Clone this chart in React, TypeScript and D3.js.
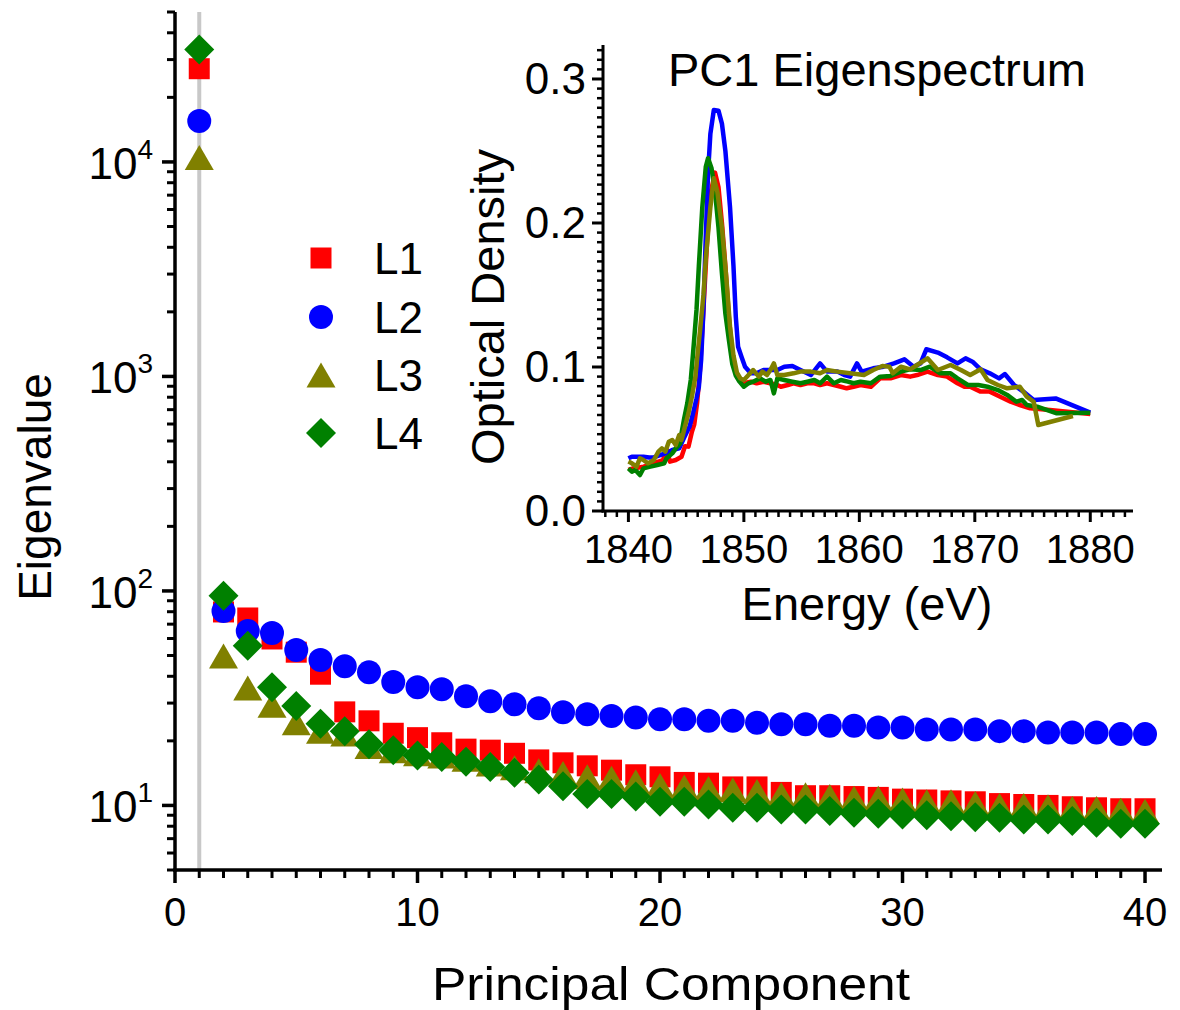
import React from 'react';
import * as d3 from 'd3';

// ---------- Main plot data (eigenvalues per principal component) ----------
const pcs = d3.range(1, 41);
const eigL1 = [27200, 79.8, 74.8, 59.7, 51.8, 40.9, 27.3, 24.8, 21.7, 20.7, 19.6, 18.3, 18.1, 17.5, 16.3, 15.8, 15.3, 14.6, 13.9, 13.6, 12.8, 12.7, 12.2, 12.2, 11.5, 11.1, 11.1, 11.0, 10.9, 10.7, 10.6, 10.5, 10.4, 10.2, 10.1, 10.0, 9.86, 9.75, 9.65, 9.65];
const eigL2 = [15500, 80.7, 65, 63.6, 53, 47.6, 44.6, 41.8, 37.6, 35.6, 34.8, 32.3, 30.6, 29.6, 28.4, 27.2, 26.6, 26.1, 25.7, 25.2, 25.2, 24.8, 24.8, 24.3, 23.9, 23.9, 23.5, 23.5, 23.1, 23.1, 22.6, 22.6, 22.6, 22.2, 22.2, 21.9, 21.9, 21.9, 21.5, 21.5];
const eigL3 = [10500, 49.7, 35.3, 29.3, 24.3, 22.2, 21.5, 18.8, 18.0, 17.4, 17.0, 16.4, 15.6, 15.0, 14.5, 14.1, 13.6, 13.4, 12.9, 12.4, 12.2, 12.0, 11.8, 11.6, 11.2, 11.2, 11.0, 10.8, 10.8, 10.6, 10.4, 10.4, 10.2, 10.0, 10.0, 9.86, 9.68, 9.68, 9.5, 9.4];
const eigL4 = [33400, 95, 55.5, 35.6, 29.1, 24.0, 22.2, 19.3, 18.1, 17.1, 16.8, 16.0, 15.1, 14.2, 13.2, 12.3, 11.3, 11.3, 11.0, 10.4, 10.4, 10.1, 9.75, 9.75, 9.58, 9.58, 9.41, 9.24, 9.15, 9.08, 9.01, 8.9, 8.82, 8.76, 8.6, 8.6, 8.45, 8.3, 8.22, 8.22];

const seriesNames = ['L1', 'L2', 'L3', 'L4'];
const seriesColors = ['#ff0000', '#0000ff', '#808000', '#008000'];
const seriesShapes = ['square', 'circle', 'triangle', 'diamond'];

const mainXTicks = [0, 10, 20, 30, 40];
const mainYExponents = [1, 2, 3, 4];

// ---------- Inset data (PC1 eigenspectrum) ----------
const l1Energy = [1840, 1840.4, 1840.8, 1841.3, 1841.8, 1842.2, 1842.6, 1843.0, 1843.3, 1843.6, 1844.1, 1844.6, 1844.9, 1845.2, 1845.5, 1845.7, 1845.95, 1846.2, 1846.5, 1846.8, 1847.1, 1847.5, 1847.8, 1848.1, 1848.4, 1848.7, 1849.0, 1849.3, 1849.7, 1850.0, 1850.6, 1851.1, 1851.7, 1852.3, 1852.9, 1853.2, 1853.8, 1854.3, 1854.9, 1855.5, 1856.1, 1856.6, 1857.2, 1857.8, 1858.4, 1858.9, 1859.5, 1860.1, 1861.0, 1861.8, 1862.7, 1863.6, 1864.4, 1865.0, 1865.9, 1866.8, 1867.6, 1868.5, 1869.1, 1869.6, 1870.5, 1871.3, 1872.2, 1873.1, 1873.9, 1874.8, 1876.5, 1880.0];
const l1OD = [0.0285, 0.0296, 0.030, 0.0308, 0.0319, 0.0331, 0.0343, 0.0354, 0.043, 0.0343, 0.0354, 0.0377, 0.045, 0.0447, 0.055, 0.060, 0.075, 0.098, 0.14, 0.185, 0.22, 0.235, 0.225, 0.20, 0.17, 0.135, 0.11, 0.097, 0.09, 0.0887, 0.0898, 0.0887, 0.0898, 0.0887, 0.0875, 0.0863, 0.0875, 0.0887, 0.0875, 0.0887, 0.0887, 0.0875, 0.0887, 0.0875, 0.0863, 0.0852, 0.0863, 0.0875, 0.0863, 0.0921, 0.0921, 0.0944, 0.0933, 0.0944, 0.0968, 0.0944, 0.0933, 0.0887, 0.0863, 0.0863, 0.0829, 0.0829, 0.0794, 0.0759, 0.0736, 0.0713, 0.0701, 0.0674];

const l2Energy = [1840, 1840.3, 1840.8, 1841.3, 1841.8, 1842.2, 1842.8, 1843.2, 1843.8, 1844.4, 1844.8, 1845.3, 1845.6, 1845.9, 1846.1, 1846.3, 1846.5, 1846.7, 1846.9, 1847.1, 1847.4, 1847.8, 1848.1, 1848.4, 1848.8, 1849.1, 1849.3, 1849.5, 1849.8, 1850.1, 1850.6, 1851.1, 1851.7, 1852.3, 1852.9, 1853.5, 1854.2, 1854.9, 1855.8, 1856.6, 1857.2, 1858.1, 1858.7, 1859.2, 1859.8, 1860.2, 1861.2, 1862.1, 1863.0, 1863.9, 1864.7, 1865.3, 1865.8, 1866.8, 1867.6, 1868.5, 1869.2, 1869.8, 1870.5, 1871.3, 1872.1, 1872.6, 1873.4, 1874.2, 1875.1, 1877.0, 1880.0];
const l2OD = [0.0366, 0.0377, 0.0377, 0.0377, 0.0372, 0.0372, 0.0389, 0.040, 0.0424, 0.0435, 0.0505, 0.0586, 0.0678, 0.0782, 0.086, 0.105, 0.14, 0.19, 0.235, 0.262, 0.2785, 0.278, 0.269, 0.25, 0.211, 0.17, 0.135, 0.114, 0.107, 0.1002, 0.0956, 0.0956, 0.0979, 0.0979, 0.0979, 0.1002, 0.1007, 0.0979, 0.0944, 0.1025, 0.0968, 0.0968, 0.0944, 0.0933, 0.1025, 0.0968, 0.0991, 0.1002, 0.1025, 0.1053, 0.1002, 0.1025, 0.1123, 0.110, 0.1067, 0.1025, 0.106, 0.1037, 0.0984, 0.0956, 0.0921, 0.0951, 0.0875, 0.0829, 0.0771, 0.0782, 0.0683];

const l3Energy = [1840, 1840.3, 1840.7, 1841.0, 1841.3, 1841.7, 1842.2, 1842.6, 1842.9, 1843.2, 1843.5, 1843.8, 1844.1, 1844.4, 1844.6, 1844.9, 1845.2, 1845.5, 1845.8, 1846.0, 1846.2, 1846.5, 1846.7, 1847.1, 1847.4, 1847.7, 1848.1, 1848.5, 1848.8, 1849.1, 1849.4, 1849.7, 1850.0, 1850.4, 1850.8, 1851.3, 1851.6, 1852.0, 1852.3, 1852.6, 1852.9, 1853.5, 1854.3, 1854.9, 1855.8, 1856.6, 1857.2, 1858.1, 1859.2, 1860.4, 1861.2, 1862.0, 1862.6, 1862.9, 1863.6, 1864.4, 1865.0, 1865.9, 1866.8, 1867.9, 1868.8, 1869.6, 1870.5, 1871.1, 1872.0, 1872.8, 1873.9, 1874.5, 1875.1, 1875.5, 1878.5];
const l3OD = [0.0343, 0.0331, 0.0308, 0.0366, 0.0354, 0.0331, 0.0354, 0.0412, 0.0435, 0.0412, 0.0481, 0.0493, 0.0458, 0.0528, 0.0493, 0.0586, 0.0678, 0.0794, 0.0933, 0.1095, 0.125, 0.15, 0.175, 0.211, 0.231, 0.222, 0.197, 0.16, 0.128, 0.108, 0.096, 0.092, 0.091, 0.0944, 0.0979, 0.0933, 0.0968, 0.0944, 0.0979, 0.1025, 0.0944, 0.0944, 0.0956, 0.0968, 0.0968, 0.0956, 0.0979, 0.0968, 0.0956, 0.0944, 0.0979, 0.1007, 0.1002, 0.0956, 0.1002, 0.0984, 0.1014, 0.106, 0.0979, 0.1014, 0.0979, 0.0944, 0.0984, 0.091, 0.0875, 0.0852, 0.0863, 0.0794, 0.0759, 0.0597, 0.066];

const l4Energy = [1840, 1840.3, 1840.6, 1841.0, 1841.3, 1841.9, 1842.5, 1843.1, 1843.3, 1843.8, 1844.1, 1844.5, 1844.6, 1844.8, 1845.1, 1845.4, 1845.6, 1845.9, 1846.1, 1846.4, 1846.7, 1846.9, 1847.2, 1847.5, 1847.8, 1848.1, 1848.4, 1848.7, 1849.0, 1849.3, 1849.6, 1850.0, 1850.4, 1850.8, 1851.4, 1851.9, 1852.3, 1852.6, 1852.9, 1853.5, 1854.2, 1854.9, 1855.5, 1856.1, 1856.6, 1857.2, 1857.8, 1858.4, 1859.0, 1859.5, 1860.1, 1861.0, 1861.8, 1862.7, 1863.6, 1864.4, 1865.3, 1866.1, 1867.0, 1867.9, 1868.5, 1869.4, 1870.3, 1871.1, 1872.0, 1872.8, 1873.6, 1874.1, 1874.5, 1875.4, 1877.1, 1880.0];
const l4OD = [0.0296, 0.0273, 0.0285, 0.025, 0.0296, 0.0308, 0.0319, 0.0331, 0.0366, 0.040, 0.0435, 0.047, 0.054, 0.063, 0.0748, 0.091, 0.1095, 0.14, 0.17, 0.211, 0.239, 0.245, 0.238, 0.222, 0.197, 0.165, 0.137, 0.119, 0.102, 0.094, 0.09, 0.0863, 0.0887, 0.0898, 0.0921, 0.0898, 0.091, 0.0817, 0.0921, 0.091, 0.0898, 0.0887, 0.0898, 0.091, 0.0887, 0.0933, 0.0887, 0.091, 0.0898, 0.0887, 0.0898, 0.0887, 0.0933, 0.0938, 0.0968, 0.0984, 0.0979, 0.1002, 0.0956, 0.0956, 0.0921, 0.0875, 0.0875, 0.0863, 0.084, 0.0806, 0.0759, 0.0771, 0.0736, 0.0724, 0.0678, 0.0683];

const insetXTicks = [1840, 1850, 1860, 1870, 1880];
const insetYTicks = [0, 0.1, 0.2, 0.3];

const FONT = '"Liberation Sans", Arial, Helvetica, sans-serif';

function symbolPath(shape: string, cx: number, cy: number): string {
  if (shape === 'square') {
    const h = 10.5;
    return `M${cx - h},${cy - h}H${cx + h}V${cy + h}H${cx - h}Z`;
  }
  if (shape === 'circle') {
    const r = 12;
    return `M${cx - r},${cy}A${r},${r} 0 1,0 ${cx + r},${cy}A${r},${r} 0 1,0 ${cx - r},${cy}Z`;
  }
  if (shape === 'triangle') {
    const w = 14.5, h = 12.5;
    return `M${cx - w},${cy + h}L${cx + w},${cy + h}L${cx},${cy - h}Z`;
  }
  const d = 15;
  return `M${cx},${cy - d}L${cx + d},${cy}L${cx},${cy + d}L${cx - d},${cy}Z`;
}

export default function App() {
  const W = 1180, H = 1010;
  // main scales
  const x = d3.scaleLinear().domain([0, 40.7]).range([175, 1162]);
  const y = d3.scaleLog().domain([5, 50000]).range([870, 12]);
  const eigSeries = [eigL1, eigL2, eigL3, eigL4];

  const xMinor = d3.range(0, 41).filter((v) => v % 10 !== 0);
  const yMinor: number[] = [];
  for (let e = 0; e <= 4; e++) {
    for (let m = 2; m <= 9; m++) {
      const v = m * Math.pow(10, e);
      if (v >= 5 && v <= 50000) yMinor.push(v);
    }
  }

  // inset scales
  const ix = d3.scaleLinear().domain([1837.8, 1883.7]).range([603, 1133]);
  const iy = d3.scaleLinear().domain([0, 0.3236]).range([511, 45]);
  const ixMinor = d3.range(1838, 1884).filter((v) => v % 10 !== 0);
  const iyMinor: number[] = [];
  for (let k = 1; k * (0.1 / 15) <= 0.3236; k++) {
    if (k % 15 !== 0) iyMinor.push(k * (0.1 / 15));
  }
  const spectra = [
    { e: l1Energy, od: l1OD, color: seriesColors[0] },
    { e: l2Energy, od: l2OD, color: seriesColors[1] },
    { e: l4Energy, od: l4OD, color: seriesColors[3] },
    { e: l3Energy, od: l3OD, color: seriesColors[2] },
  ];
  const line = d3
    .line<[number, number]>()
    .x((d) => ix(d[0]))
    .y((d) => iy(d[1]));

  const axisW = 3.5;
  const legendRows = [258, 317, 375, 433];

  return (
    <div style={{ position: 'absolute', left: 0, top: 0 }}>
      <svg width={W} height={H} style={{ display: 'block', background: '#fff' }} fontFamily={FONT}>
        <rect x={0} y={0} width={W} height={H} fill="#fff" />
        {/* PC1 marker line */}
        <line x1={x(1)} x2={x(1)} y1={y(50000)} y2={y(5)} stroke="#c8c8c8" strokeWidth={4} />

        {/* main data */}
        {eigSeries.map((vals, si) => (
          <g key={si} fill={seriesColors[si]}>
            {vals.map((v, i) => (
              <path key={i} d={symbolPath(seriesShapes[si], x(pcs[i]), y(v))} />
            ))}
          </g>
        ))}

        {/* main axes */}
        <g stroke="#000">
          <line x1={x(0)} x2={x(0)} y1={y(5) + axisW / 2} y2={y(50000)} strokeWidth={axisW} />
          <line x1={x(0) - axisW / 2} x2={x(40.7)} y1={y(5)} y2={y(5)} strokeWidth={axisW} />
          {mainXTicks.map((t) => (
            <line key={'xM' + t} x1={x(t)} x2={x(t)} y1={y(5)} y2={y(5) + 13} strokeWidth={3.5} />
          ))}
          {xMinor.map((t) => (
            <line key={'xm' + t} x1={x(t)} x2={x(t)} y1={y(5)} y2={y(5) + 8} strokeWidth={3} />
          ))}
          {mainYExponents.map((e) => (
            <line key={'yM' + e} x1={x(0)} x2={x(0) - 13} y1={y(Math.pow(10, e))} y2={y(Math.pow(10, e))} strokeWidth={3.5} />
          ))}
          {yMinor.map((v) => (
            <line key={'ym' + v} x1={x(0)} x2={x(0) - 8} y1={y(v)} y2={y(v)} strokeWidth={3} />
          ))}
        </g>
        {mainXTicks.map((t) => (
          <text key={'xl' + t} x={x(t)} y={926} fontSize={40} textAnchor="middle">
            {t}
          </text>
        ))}
        {mainYExponents.map((e) => (
          <text key={'yl' + e} x={153} y={y(Math.pow(10, e)) + 17} fontSize={44} textAnchor="end">
            10
            <tspan dy={-20} fontSize={28}>
              {e}
            </tspan>
          </text>
        ))}
        <text x={671} y={1000} fontSize={47} textAnchor="middle" textLength={478} lengthAdjust="spacingAndGlyphs">
          Principal Component
        </text>
        <text transform="translate(51,487) rotate(-90)" fontSize={46} textAnchor="middle">
          Eigenvalue
        </text>

        {/* legend */}
        {seriesNames.map((n, i) => (
          <g key={n}>
            <path d={symbolPath(seriesShapes[i], 321, legendRows[i])} fill={seriesColors[i]} />
            <text x={374} y={legendRows[i] + 16} fontSize={44}>
              {n}
            </text>
          </g>
        ))}

        {/* inset */}
        {spectra.map((s, i) => (
          <path
            key={i}
            d={line(s.e.map((e, k) => [e, s.od[k]] as [number, number])) || ''}
            fill="none"
            stroke={s.color}
            strokeWidth={4.5}
            strokeLinejoin="round"
          />
        ))}
        <g stroke="#000">
          <line x1={ix(1837.8)} x2={ix(1837.8)} y1={iy(0) + 1.5} y2={iy(0.3236)} strokeWidth={3} />
          <line x1={ix(1837.8) - 1.5} x2={ix(1883.7)} y1={iy(0)} y2={iy(0)} strokeWidth={3} />
          {insetXTicks.map((t) => (
            <line key={'ixM' + t} x1={ix(t)} x2={ix(t)} y1={iy(0)} y2={iy(0) + 11} strokeWidth={3} />
          ))}
          {ixMinor.map((t) => (
            <line key={'ixm' + t} x1={ix(t)} x2={ix(t)} y1={iy(0)} y2={iy(0) + 6} strokeWidth={2.5} />
          ))}
          {insetYTicks.map((t) => (
            <line key={'iyM' + t} x1={ix(1837.8)} x2={ix(1837.8) - 11} y1={iy(t)} y2={iy(t)} strokeWidth={3} />
          ))}
          {iyMinor.map((t, k) => (
            <line key={'iym' + k} x1={ix(1837.8)} x2={ix(1837.8) - 6} y1={iy(t)} y2={iy(t)} strokeWidth={2.5} />
          ))}
        </g>
        {insetXTicks.map((t) => (
          <text key={'ixl' + t} x={ix(t)} y={563} fontSize={40} textAnchor="middle">
            {t}
          </text>
        ))}
        {insetYTicks.map((t) => (
          <text key={'iyl' + t} x={586} y={iy(t) + 15} fontSize={44} textAnchor="end">
            {t.toFixed(1)}
          </text>
        ))}
        <text x={668} y={86} fontSize={47}>
          PC1 Eigenspectrum
        </text>
        <text x={867} y={620} fontSize={47} textAnchor="middle">
          Energy (eV)
        </text>
        <text transform="translate(504,307) rotate(-90)" fontSize={47} textAnchor="middle">
          Optical Density
        </text>
      </svg>
    </div>
  );
}
